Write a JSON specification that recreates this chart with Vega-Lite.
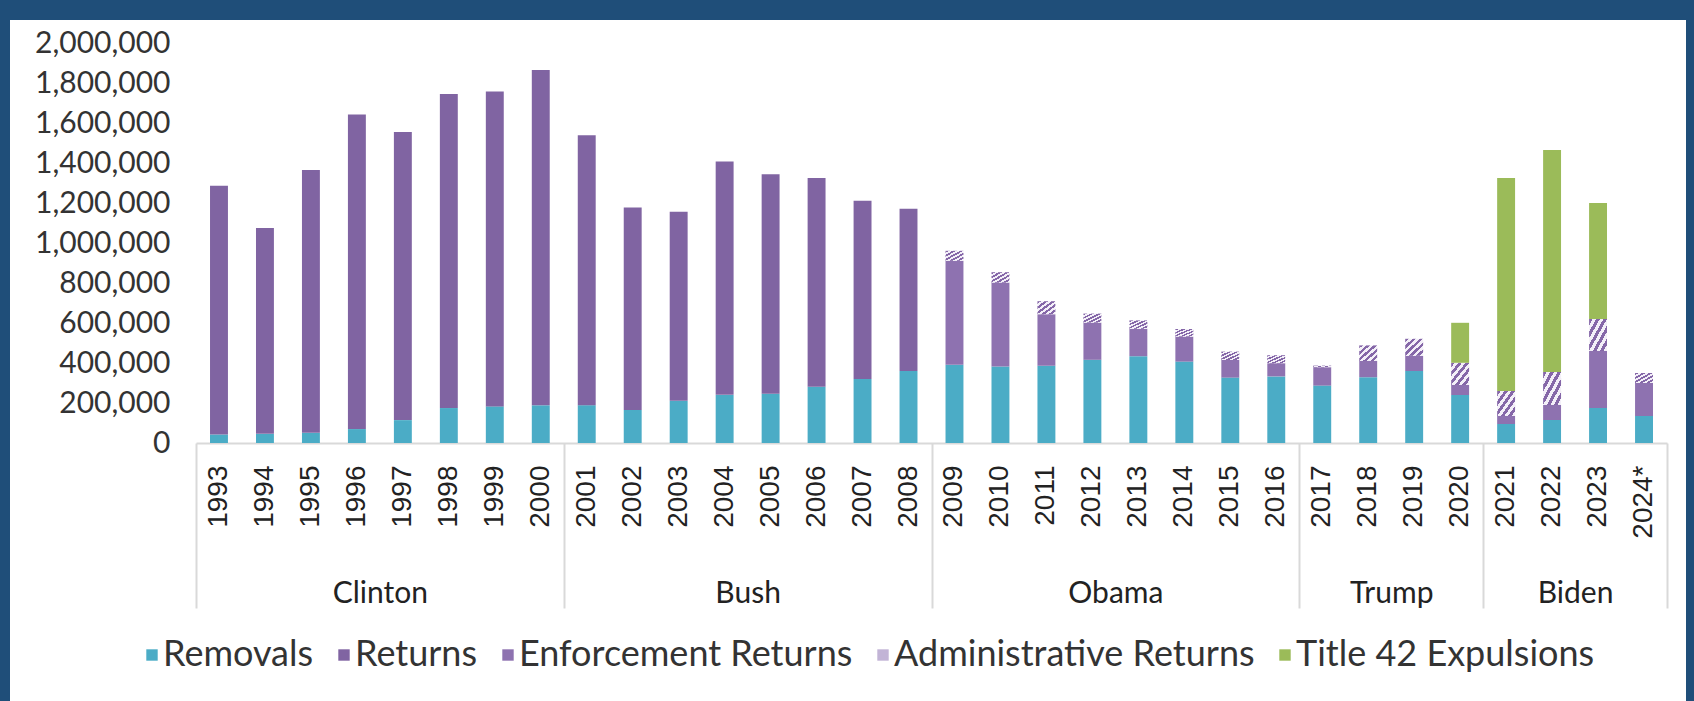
{
  "$schema": "https://vega.github.io/schema/vega-lite/v6.json",
  "width": 1676,
  "height": 681,
  "autosize": "none",
  "padding": {"left": 10, "top": 20, "right": 8, "bottom": 0},
  "background": "#1F4E79",
  "config": {
    "view": {"fill": "white", "stroke": null},
    "font": "Lato",
    "axis": {"labelColor": "#333333", "domain": false, "ticks": false, "grid": false, "title": null, "labelFont": "Lato"}
  },
  "datasets": {
    "flows": [
      {"year": "1993", "category": "Removals", "rank": 1, "count": 42500},
      {"year": "1993", "category": "Returns", "rank": 2, "count": 1243400},
      {"year": "1994", "category": "Removals", "rank": 1, "count": 45700},
      {"year": "1994", "category": "Returns", "rank": 2, "count": 1029100},
      {"year": "1995", "category": "Removals", "rank": 1, "count": 50900},
      {"year": "1995", "category": "Returns", "rank": 2, "count": 1313800},
      {"year": "1996", "category": "Removals", "rank": 1, "count": 69700},
      {"year": "1996", "category": "Returns", "rank": 2, "count": 1573400},
      {"year": "1997", "category": "Removals", "rank": 1, "count": 114400},
      {"year": "1997", "category": "Returns", "rank": 2, "count": 1440700},
      {"year": "1998", "category": "Removals", "rank": 1, "count": 174800},
      {"year": "1998", "category": "Returns", "rank": 2, "count": 1570100},
      {"year": "1999", "category": "Removals", "rank": 1, "count": 183100},
      {"year": "1999", "category": "Returns", "rank": 2, "count": 1574900},
      {"year": "2000", "category": "Removals", "rank": 1, "count": 188500},
      {"year": "2000", "category": "Returns", "rank": 2, "count": 1675900},
      {"year": "2001", "category": "Removals", "rank": 1, "count": 189000},
      {"year": "2001", "category": "Returns", "rank": 2, "count": 1349400},
      {"year": "2002", "category": "Removals", "rank": 1, "count": 165200},
      {"year": "2002", "category": "Returns", "rank": 2, "count": 1012100},
      {"year": "2003", "category": "Removals", "rank": 1, "count": 211100},
      {"year": "2003", "category": "Returns", "rank": 2, "count": 945300},
      {"year": "2004", "category": "Removals", "rank": 1, "count": 240700},
      {"year": "2004", "category": "Returns", "rank": 2, "count": 1166600},
      {"year": "2005", "category": "Removals", "rank": 1, "count": 246400},
      {"year": "2005", "category": "Returns", "rank": 2, "count": 1096900},
      {"year": "2006", "category": "Removals", "rank": 1, "count": 281000},
      {"year": "2006", "category": "Returns", "rank": 2, "count": 1043400},
      {"year": "2007", "category": "Removals", "rank": 1, "count": 319400},
      {"year": "2007", "category": "Returns", "rank": 2, "count": 891400},
      {"year": "2008", "category": "Removals", "rank": 1, "count": 359800},
      {"year": "2008", "category": "Returns", "rank": 2, "count": 811300},
      {"year": "2009", "category": "Removals", "rank": 1, "count": 391000},
      {"year": "2009", "category": "Enforcement Returns", "rank": 3, "count": 520000},
      {"year": "2009", "category": "Administrative Returns", "rank": 4, "count": 50000},
      {"year": "2010", "category": "Removals", "rank": 1, "count": 382000},
      {"year": "2010", "category": "Enforcement Returns", "rank": 3, "count": 420000},
      {"year": "2010", "category": "Administrative Returns", "rank": 4, "count": 52000},
      {"year": "2011", "category": "Removals", "rank": 1, "count": 386000},
      {"year": "2011", "category": "Enforcement Returns", "rank": 3, "count": 258000},
      {"year": "2011", "category": "Administrative Returns", "rank": 4, "count": 65000},
      {"year": "2012", "category": "Removals", "rank": 1, "count": 416000},
      {"year": "2012", "category": "Enforcement Returns", "rank": 3, "count": 186000},
      {"year": "2012", "category": "Administrative Returns", "rank": 4, "count": 45000},
      {"year": "2013", "category": "Removals", "rank": 1, "count": 434000},
      {"year": "2013", "category": "Enforcement Returns", "rank": 3, "count": 137000},
      {"year": "2013", "category": "Administrative Returns", "rank": 4, "count": 42000},
      {"year": "2014", "category": "Removals", "rank": 1, "count": 407000},
      {"year": "2014", "category": "Enforcement Returns", "rank": 3, "count": 125000},
      {"year": "2014", "category": "Administrative Returns", "rank": 4, "count": 38000},
      {"year": "2015", "category": "Removals", "rank": 1, "count": 327000},
      {"year": "2015", "category": "Enforcement Returns", "rank": 3, "count": 88000},
      {"year": "2015", "category": "Administrative Returns", "rank": 4, "count": 42000},
      {"year": "2016", "category": "Removals", "rank": 1, "count": 333000},
      {"year": "2016", "category": "Enforcement Returns", "rank": 3, "count": 66000},
      {"year": "2016", "category": "Administrative Returns", "rank": 4, "count": 40000},
      {"year": "2017", "category": "Removals", "rank": 1, "count": 287000},
      {"year": "2017", "category": "Enforcement Returns", "rank": 3, "count": 92000},
      {"year": "2017", "category": "Administrative Returns", "rank": 4, "count": 8000},
      {"year": "2018", "category": "Removals", "rank": 1, "count": 329000},
      {"year": "2018", "category": "Enforcement Returns", "rank": 3, "count": 81000},
      {"year": "2018", "category": "Administrative Returns", "rank": 4, "count": 78000},
      {"year": "2019", "category": "Removals", "rank": 1, "count": 360000},
      {"year": "2019", "category": "Enforcement Returns", "rank": 3, "count": 76000},
      {"year": "2019", "category": "Administrative Returns", "rank": 4, "count": 85000},
      {"year": "2020", "category": "Removals", "rank": 1, "count": 240000},
      {"year": "2020", "category": "Enforcement Returns", "rank": 3, "count": 50000},
      {"year": "2020", "category": "Administrative Returns", "rank": 4, "count": 111000},
      {"year": "2020", "category": "Title 42 Expulsions", "rank": 5, "count": 200000},
      {"year": "2021", "category": "Removals", "rank": 1, "count": 95000},
      {"year": "2021", "category": "Enforcement Returns", "rank": 3, "count": 40000},
      {"year": "2021", "category": "Administrative Returns", "rank": 4, "count": 125000},
      {"year": "2021", "category": "Title 42 Expulsions", "rank": 5, "count": 1065000},
      {"year": "2022", "category": "Removals", "rank": 1, "count": 115000},
      {"year": "2022", "category": "Enforcement Returns", "rank": 3, "count": 75000},
      {"year": "2022", "category": "Administrative Returns", "rank": 4, "count": 165000},
      {"year": "2022", "category": "Title 42 Expulsions", "rank": 5, "count": 1110000},
      {"year": "2023", "category": "Removals", "rank": 1, "count": 175000},
      {"year": "2023", "category": "Enforcement Returns", "rank": 3, "count": 285000},
      {"year": "2023", "category": "Administrative Returns", "rank": 4, "count": 160000},
      {"year": "2023", "category": "Title 42 Expulsions", "rank": 5, "count": 580000},
      {"year": "2024*", "category": "Removals", "rank": 1, "count": 135000},
      {"year": "2024*", "category": "Enforcement Returns", "rank": 3, "count": 165000},
      {"year": "2024*", "category": "Administrative Returns", "rank": 4, "count": 50000}
    ],
    "presidents": [
      {"president": "Clinton", "start": 0, "end": 8},
      {"president": "Bush", "start": 8, "end": 16},
      {"president": "Obama", "start": 16, "end": 24},
      {"president": "Trump", "start": 24, "end": 28},
      {"president": "Biden", "start": 28, "end": 32}
    ]
  },
  "layer": [
    {
      "data": {"name": "flows"},
      "mark": {"type": "bar"},
      "encoding": {
        "x": {
          "field": "year", "type": "ordinal", "sort": null,
          "scale": {"range": [186, 1657], "paddingInner": 0.61, "paddingOuter": 0.305},
          "axis": {"orient": "bottom", "offset": -258, "labelAngle": -90, "labelFont": "Liberation Sans", "labelFontSize": 28, "labelPadding": 22, "labelColor": "#222222", "domain": true, "domainColor": "#D9D9D9", "domainWidth": 2, "ticks": false}
        },
        "y": {
          "field": "count", "type": "quantitative", "stack": "zero",
          "scale": {"domain": [0, 2000000], "range": [423, 23], "nice": false},
          "axis": {"orient": "left", "offset": -160, "values": [0, 200000, 400000, 600000, 800000, 1000000, 1200000, 1400000, 1600000, 1800000, 2000000], "format": ",d", "labelFontSize": 30, "labelPadding": 0, "labelColor": "#333333"}
        },
        "fill": {
          "field": "category", "type": "nominal",
          "condition": {"test": "datum.category === 'Administrative Returns'", "value": {"gradient": "linear", "x1": 0, "y1": 0, "x2": 1, "y2": 1, "stops": [
            {"offset": 0, "color": "#8567A8"}, {"offset": 0.1, "color": "#8567A8"}, {"offset": 0.1, "color": "#F3EFF8"}, {"offset": 0.2, "color": "#F3EFF8"},
            {"offset": 0.2, "color": "#8567A8"}, {"offset": 0.3, "color": "#8567A8"}, {"offset": 0.3, "color": "#F3EFF8"}, {"offset": 0.4, "color": "#F3EFF8"},
            {"offset": 0.4, "color": "#8567A8"}, {"offset": 0.5, "color": "#8567A8"}, {"offset": 0.5, "color": "#F3EFF8"}, {"offset": 0.6, "color": "#F3EFF8"},
            {"offset": 0.6, "color": "#8567A8"}, {"offset": 0.7, "color": "#8567A8"}, {"offset": 0.7, "color": "#F3EFF8"}, {"offset": 0.8, "color": "#F3EFF8"},
            {"offset": 0.8, "color": "#8567A8"}, {"offset": 0.9, "color": "#8567A8"}, {"offset": 0.9, "color": "#F3EFF8"}, {"offset": 1, "color": "#F3EFF8"}
          ]}},
          "scale": {"domain": ["Removals", "Returns", "Enforcement Returns", "Administrative Returns", "Title 42 Expulsions"], "range": ["#4BACC6", "#8064A2", "#8E72B0", "#C2B4D6", "#9BBB59"]},
          "legend": {"title": null, "orient": "none", "direction": "horizontal", "legendX": 124, "legendY": 617, "symbolType": "square", "symbolSize": 130, "symbolStrokeWidth": 0, "labelFont": "Lato", "labelFontSize": 36, "labelColor": "#333333", "labelLimit": 1000, "columnPadding": 12, "labelOffset": -7}
        },
        "order": {"field": "rank", "type": "quantitative"}
      }
    },
    {
      "data": {"name": "presidents"},
      "mark": {"type": "rule", "opacity": 0},
      "encoding": {
        "x": {
          "field": "start", "type": "quantitative",
          "scale": {"domain": [0, 32], "range": [186, 1657], "nice": false, "zero": false},
          "axis": {"orient": "bottom", "offset": -258, "values": [0, 4, 8, 12, 16, 20, 24, 26, 28, 30, 32], "labelExpr": "datum.value == 4 ? 'Clinton' : datum.value == 12 ? 'Bush' : datum.value == 20 ? 'Obama' : datum.value == 26 ? 'Trump' : datum.value == 30 ? 'Biden' : ''", "domain": false, "ticks": true, "tickSize": 165, "tickColor": "#D9D9D9", "tickWidth": 2, "tickOpacity": {"condition": {"test": "indexof([4, 12, 20, 26, 30], datum.value) >= 0", "value": 0}, "value": 1}, "labelPadding": -30, "labelFontSize": 30, "labelFont": "Lato", "labelColor": "#222222", "labelOverlap": false, "labelFlush": false, "labelBound": false}
        }
      }
    }
  ],
  "resolve": {"scale": {"x": "independent"}, "axis": {"x": "independent"}}
}
